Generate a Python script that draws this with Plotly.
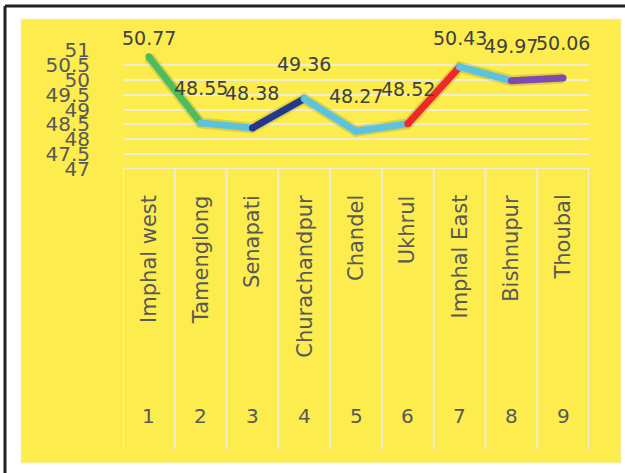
import plotly.graph_objects as go

districts = ["Imphal west", "Tamenglong", "Senapati", "Churachandpur", "Chandel",
             "Ukhrul", "Imphal East", "Bishnupur", "Thoubal"]
ranks = [1, 2, 3, 4, 5, 6, 7, 8, 9]
values = [50.77, 48.55, 48.38, 49.36, 48.27, 48.52, 50.43, 49.97, 50.06]
segment_colors = ["#4DBD5B", "#5BC3DE", "#23388A", "#5BC3DE", "#5BC3DE",
                  "#F02828", "#5BC3DE", "#7D4CAE"]
y_ticks = [47, 47.5, 48, 48.5, 49, 49.5, 50, 50.5, 51]

W, H = 625, 473
YELLOW = "#FCEC4E"
GRID = "#F1EDCF"
TXT = "#595959"
FONT = "DejaVu Sans"

def px(x):
    return x / W

def py(y):
    return 1 - y / H

ymin, ymax = 47, 51
plot_top, plot_bot = 50, 169
scale = (plot_bot - plot_top) / (ymax - ymin)

fig = go.Figure()

# soft shadow
fig.add_trace(go.Scatter(x=ranks, y=values, mode="lines",
                         line=dict(color="rgba(60,50,0,0.14)", width=11),
                         hoverinfo="skip", showlegend=False))
for i, c in enumerate(segment_colors):
    fig.add_trace(go.Scatter(x=ranks[i:i + 2], y=values[i:i + 2], mode="lines+markers",
                             line=dict(color=c, width=7),
                             marker=dict(color=c, size=7, line=dict(width=0)),
                             showlegend=False))

# data labels (kept inside the chart area at the top)
for r, v in zip(ranks, values):
    top = plot_top + (ymax - v) * scale - 35
    shift = 35 if top >= 38 else 35 - (38 - top)
    fig.add_annotation(x=r, y=v, text=f"{v:.2f}", showarrow=False, yshift=shift,
                       xanchor="center", yanchor="middle",
                       font=dict(family=FONT, size=19, color="#404040"))

shapes = []
shapes.append(dict(type="rect", xref="paper", yref="paper", x0=px(21), x1=px(621),
                   y0=py(463), y1=py(19), fillcolor=YELLOW,
                   line=dict(color="#F3EFD8", width=1), layer="below"))
shapes.append(dict(type="line", xref="paper", yref="paper", x0=px(5), x1=1,
                   y0=py(6), y1=py(6), line=dict(color="#222222", width=3)))
shapes.append(dict(type="line", xref="paper", yref="paper", x0=px(5), x1=px(5),
                   y0=py(6), y1=0, line=dict(color="#222222", width=3)))
for k in range(len(districts) + 1):
    shapes.append(dict(type="line", xref="x", yref="paper", x0=k + 0.5, x1=k + 0.5,
                       y0=py(169), y1=py(449), line=dict(color=GRID, width=2)))
fig.update_layout(shapes=shapes)

for r, d in zip(ranks, districts):
    fig.add_annotation(x=r, y=py(193), xref="x", yref="paper", text=d, textangle=-90,
                       showarrow=False, xanchor="center", yanchor="top",
                       font=dict(family=FONT, size=21, color=TXT))
    fig.add_annotation(x=r, y=py(416), xref="x", yref="paper", text=str(r),
                       showarrow=False, xanchor="center", yanchor="middle",
                       font=dict(family=FONT, size=20, color=TXT))

fig.update_layout(
    template="none",
    width=W, height=H,
    margin=dict(l=0, r=0, t=0, b=0, pad=0, autoexpand=False),
    paper_bgcolor="white",
    plot_bgcolor="rgba(0,0,0,0)",
    xaxis=dict(domain=[px(123), px(589)], range=[0.5, 9.5], showgrid=False,
               zeroline=False, showticklabels=False, ticks="", showline=False,
               automargin=False),
    yaxis=dict(domain=[py(plot_bot), py(plot_top)], range=[ymin, ymax],
               tickvals=y_ticks, ticktext=[f"{t:g}" for t in y_ticks],
               showgrid=True, gridcolor=GRID, gridwidth=2, zeroline=False,
               showline=False, automargin=False,
               ticks="outside", ticklen=28, tickcolor="rgba(0,0,0,0)",
               tickfont=dict(family=FONT, size=20, color=TXT)),
)
fig.add_shape(type="line", xref="x", yref="y", x0=0.5, x1=9.5, y0=ymin, y1=ymin,
              line=dict(color=GRID, width=2))

fig.write_html("out.html", config={"responsive": False, "displayModeBar": False},
               post_script="document.body.style.margin='0';document.body.style.overflow='hidden';")
